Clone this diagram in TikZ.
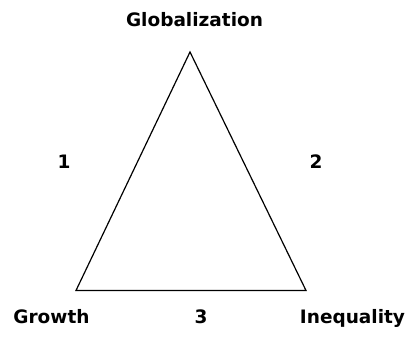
\documentclass[tikz,border=0pt]{standalone}
\usepackage{fontspec}
\setmainfont{DejaVu Sans}
\usetikzlibrary{positioning}
\tikzset{
  tlabel/.style={font=\bfseries\fontsize{18.5}{21}\selectfont, anchor=base, inner sep=0pt},
  tedge/.style={draw=black, line width=1.2pt, line join=miter}
}

\begin{document}
\begin{tikzpicture}[x=1pt,y=1pt]
\useasboundingbox (0,0) rectangle (412,339);
\coordinate (glob) at (190,287);
\coordinate (grow) at (76,48.5);
\coordinate (ineq) at (306,48.5);
\draw[tedge] (glob) -- (grow) -- (ineq) -- cycle;
\node[tlabel] (globtxt) at (194.5,312) {Globalization};
\node[tlabel] (growtxt) at (51.5,15) {Growth};
\node[tlabel] (ineqtxt) at (352.5,15) {Inequality};
\node[tlabel] (side1) at (64,170) {1};
\node[tlabel] (side2) at (316,170) {2};
\node[tlabel] (side3) at (201,15) {3};
\end{tikzpicture}
\end{document}
